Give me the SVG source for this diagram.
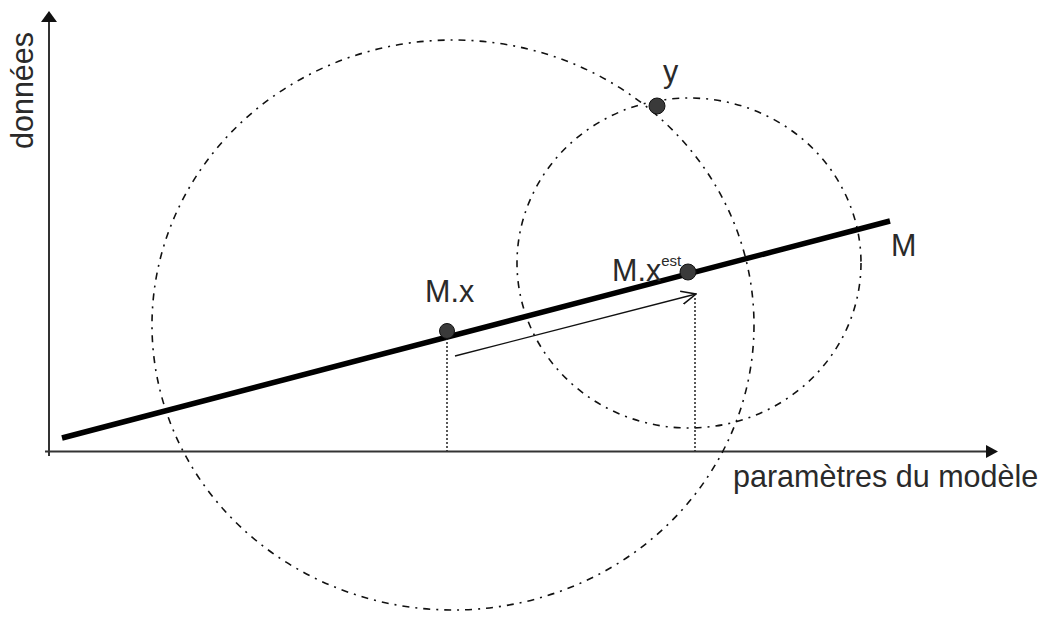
<svg xmlns="http://www.w3.org/2000/svg" width="1042" height="626" viewBox="0 0 1042 626">
<style>
.lbl{font-family:"Liberation Sans",Arial,sans-serif;font-size:30.5px;fill:#2a2a2a}
.circ{fill:none;stroke:#111;stroke-width:1.6;stroke-dasharray:7 6 2 6}
.axis{stroke:#333;stroke-width:2;fill:none}
.dot{fill:#3a3a3a;stroke:#111;stroke-width:1}
.vdot{stroke:#222;stroke-width:1.5;stroke-dasharray:2 2;fill:none}
</style>
<defs>
<marker id="open" viewBox="0 0 12 12" refX="11" refY="6" markerWidth="16" markerHeight="16" markerUnits="userSpaceOnUse" orient="auto">
<path d="M0,1 L11,6 L0,11" fill="none" stroke="#111" stroke-width="1.2"/>
</marker>
</defs>
<rect width="1042" height="626" fill="#fff"/>
<g id="axes">
<line class="axis" x1="49" y1="456" x2="49" y2="20"/>
<polygon points="49,11 41,22 57,22" fill="#111"/>
<line class="axis" x1="45" y1="451.5" x2="987" y2="451.5"/>
<polygon points="998,451.5 986,445 986,458" fill="#111"/>
</g>
<g id="circles">
<ellipse class="circ" cx="453" cy="325" rx="301" ry="285"/>
<ellipse class="circ" cx="689" cy="263" rx="172" ry="165"/>
</g>
<g id="connectors">
<line x1="62" y1="438" x2="890" y2="221" stroke="#000" stroke-width="5.5"/>
<line class="vdot" x1="447" y1="338" x2="447" y2="451"/>
<line class="vdot" x1="695" y1="298" x2="695" y2="451"/>
<line x1="455" y1="356" x2="696" y2="294" stroke="#111" stroke-width="1.3" marker-end="url(#open)"/>
</g>
<g id="node-Mx"><circle class="dot" cx="447" cy="331" r="7.5"/><text class="lbl" x="425" y="302">M.x</text></g>
<g id="node-Mxest"><circle class="dot" cx="688" cy="272" r="8"/><text class="lbl" x="612" y="281">M.x<tspan font-size="15" dy="-15">est</tspan></text></g>
<g id="node-y"><circle class="dot" cx="657" cy="106" r="8"/><text class="lbl" x="663" y="82">y</text></g>
<g id="label-M"><text class="lbl" x="891" y="256">M</text></g>
<g id="label-x"><text class="lbl" x="733" y="487">paramètres du modèle</text></g>
<g id="label-y"><text class="lbl" transform="translate(33,149) rotate(-90)">données</text></g>
</svg>
